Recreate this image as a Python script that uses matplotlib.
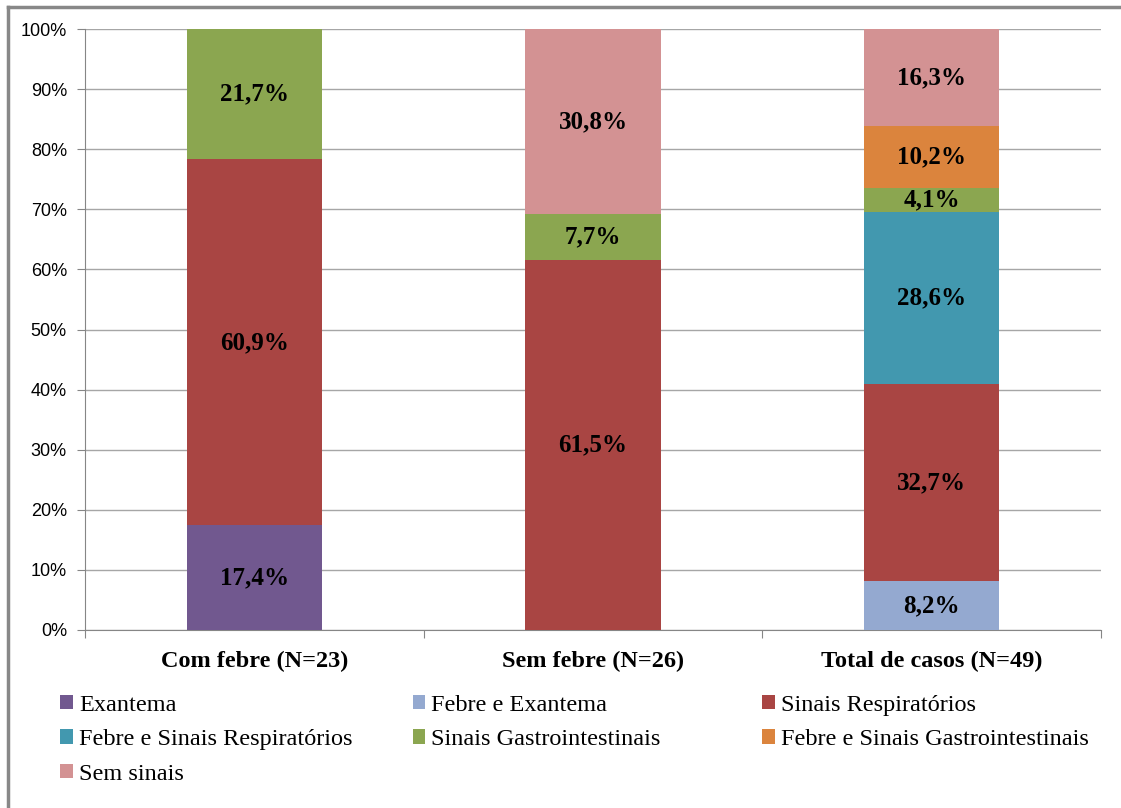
import matplotlib.pyplot as plt
from matplotlib.lines import Line2D
from matplotlib.patches import Patch

categories = ['Com febre (N=23)', 'Sem febre (N=26)', 'Total de casos (N=49)']
series = ['Exantema', 'Febre e Exantema', 'Sinais Respiratórios',
          'Febre e Sinais Respiratórios', 'Sinais Gastrointestinais',
          'Febre e Sinais Gastrointestinais', 'Sem sinais']
values = {
    'Exantema': [17.4, 0, 0],
    'Febre e Exantema': [0, 0, 8.2],
    'Sinais Respiratórios': [60.9, 61.5, 32.7],
    'Febre e Sinais Respiratórios': [0, 0, 28.6],
    'Sinais Gastrointestinais': [21.7, 7.7, 4.1],
    'Febre e Sinais Gastrointestinais': [0, 0, 10.2],
    'Sem sinais': [0, 30.8, 16.3],
}
colors = {
    'Exantema': '#71588F',
    'Febre e Exantema': '#94A9D0',
    'Sinais Respiratórios': '#A94543',
    'Febre e Sinais Respiratórios': '#4298AF',
    'Sinais Gastrointestinais': '#8BA650',
    'Febre e Sinais Gastrointestinais': '#DB843D',
    'Sem sinais': '#D39293',
}

serif = 'Liberation Serif'
fig = plt.figure(figsize=(11.21, 8.08), dpi=100)
ax = fig.add_axes([0.0758, 0.2203, 0.9064, 0.7438])

x = range(len(categories))
bottom = [0, 0, 0]
for s in series:
    vals = values[s]
    ax.bar(x, vals, width=0.4, bottom=bottom, color=colors[s], zorder=3)
    for i, v in enumerate(vals):
        if v > 0:
            ax.text(i, bottom[i] + v / 2, f'{v:.1f}%'.replace('.', ','),
                    ha='center', va='center', fontsize=18, fontweight='bold',
                    family=serif, zorder=4)
    bottom = [b + v for b, v in zip(bottom, vals)]

ax.set_xlim(-0.5, 2.5)
ax.set_ylim(0, 100)
ax.set_yticks(range(0, 101, 10))
ax.set_yticklabels([f'{t}%' for t in range(0, 101, 10)], family='Liberation Sans', fontsize=13)
ax.tick_params(axis='y', length=6, color='#868686', pad=7)
ax.grid(axis='y', color='#A6A6A6', linewidth=1, zorder=0)

ax.set_xticks([-0.5, 0.5, 1.5, 2.5])
ax.set_xticklabels([])
ax.tick_params(axis='x', which='major', length=6, color='#868686')
ax.set_xticks(list(x), minor=True)
ax.set_xticklabels(categories, minor=True, family=serif, fontsize=17.5, fontweight='bold')
ax.tick_params(axis='x', which='minor', length=0, pad=15)

for sp in ['top', 'right']:
    ax.spines[sp].set_visible(False)
for sp in ['left', 'bottom']:
    ax.spines[sp].set_color('#868686')

# legend, three columns placed like the original
cols = [['Exantema', 'Febre e Sinais Respiratórios', 'Sem sinais'],
        ['Febre e Exantema', 'Sinais Gastrointestinais'],
        ['Sinais Respiratórios', 'Febre e Sinais Gastrointestinais']]
xs = [0.0535, 0.368, 0.680]
for cx, col in zip(xs, cols):
    handles = [Patch(facecolor=colors[s]) for s in col]
    fig.legend(handles, col, loc='upper left', bbox_to_anchor=(cx, 0.140),
               frameon=False, prop={'family': serif, 'size': 17.5},
               handlelength=0.53, handleheight=0.53, handletextpad=0.25,
               labelspacing=0.55, borderaxespad=0, borderpad=0)

# border on top and left like the cropped chart frame
fig.add_artist(Line2D([0.0075, 1], [0.9915, 0.9915], color='#888888', lw=2.5))
fig.add_artist(Line2D([0.0075, 0.0075], [0, 0.9915], color='#888888', lw=2.5))

plt.savefig('out.png', dpi=100)
